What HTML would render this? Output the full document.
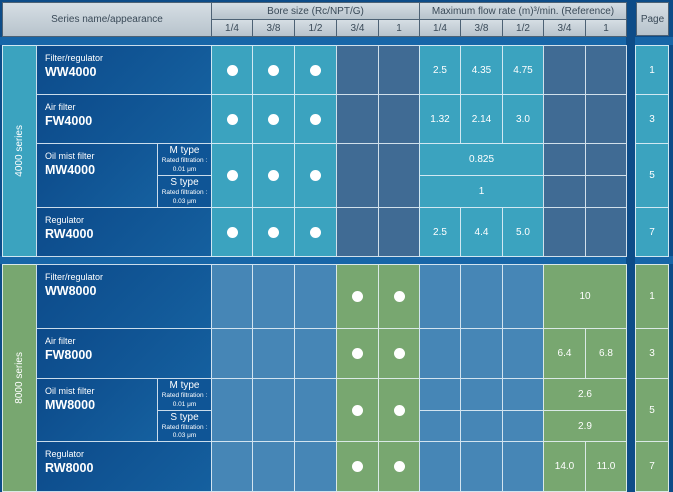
<!DOCTYPE html>
<html><head><meta charset="utf-8"><style>
*{margin:0;padding:0;box-sizing:border-box}
body{width:673px;height:492px;overflow:hidden;background:#0d4c88;font-family:"Liberation Sans",sans-serif;position:relative}
.c{position:absolute;border:1px solid rgba(235,245,250,.85);display:flex;align-items:center;justify-content:center;color:#fff;font-size:10px}
.h{background:linear-gradient(#d6dee4,#b7c3cc);color:#3a4a58;border-color:#4d6275;font-size:10px}
.cy{background:#3ba3bf}.sl{background:#406b94}.bl{background:#4686b6}.gr{background:#78a770}
.nm{background:linear-gradient(135deg,#0c4a8a,#15609f);align-items:flex-start;justify-content:flex-start;flex-direction:column;padding:7px 0 0 8px}
.nm small{font-size:9px}.nm b{font-size:12.5px;font-weight:bold;margin-top:2px}
.tp{background:#0f5596;flex-direction:column;line-height:1}
.tp span{font-size:10px}.tp i{font-style:normal;font-size:6.5px;margin-top:2px}
.d{width:11px;height:11px;border-radius:50%;background:#fff}
.v{writing-mode:vertical-rl;transform:rotate(180deg);font-size:10px}
</style></head><body>
<div style="position:absolute;left:0;top:37px;width:673px;height:8px;background:#1766a8"></div>
<div style="position:absolute;left:0;top:256px;width:673px;height:8px;background:#1766a8"></div>
<div style="position:absolute;left:626px;top:0;width:9px;height:492px;background:#0d4c88"></div>
<!-- header -->
<div class="c h" style="left:2px;top:2px;width:210px;height:35px">Series name/appearance</div>
<div class="c h" style="left:211px;top:2px;width:209px;height:18px">Bore size (Rc/NPT/G)</div>
<div class="c h" style="left:419px;top:2px;width:208px;height:18px">Maximum flow rate (m)³/min. (Reference)</div>
<div class="c h" style="left:211px;top:19px;width:42px;height:18px">1/4</div>
<div class="c h" style="left:252px;top:19px;width:43px;height:18px">3/8</div>
<div class="c h" style="left:294px;top:19px;width:43px;height:18px">1/2</div>
<div class="c h" style="left:336px;top:19px;width:43px;height:18px">3/4</div>
<div class="c h" style="left:378px;top:19px;width:42px;height:18px">1</div>
<div class="c h" style="left:419px;top:19px;width:42px;height:18px">1/4</div>
<div class="c h" style="left:460px;top:19px;width:43px;height:18px">3/8</div>
<div class="c h" style="left:502px;top:19px;width:42px;height:18px">1/2</div>
<div class="c h" style="left:543px;top:19px;width:43px;height:18px">3/4</div>
<div class="c h" style="left:585px;top:19px;width:42px;height:18px">1</div>
<div class="c h" style="left:636px;top:2px;width:33px;height:34px">Page</div>

<!-- section 1 -->
<div class="c cy" style="left:2px;top:45px;width:35px;height:212px"><span class="v">4000 series</span></div>
<div class="c nm" style="left:36px;top:45px;width:176px;height:50px"><small>Filter/regulator</small><b>WW4000</b></div>
<div class="c nm" style="left:36px;top:94px;width:176px;height:50px"><small>Air filter</small><b>FW4000</b></div>
<div class="c nm" style="left:36px;top:143px;width:122px;height:65px"><small>Oil mist filter</small><b>MW4000</b></div>
<div class="c tp" style="left:157px;top:143px;width:55px;height:33px"><span>M type</span><i>Rated filtration :</i><i>0.01 μm</i></div>
<div class="c tp" style="left:157px;top:175px;width:55px;height:33px"><span>S type</span><i>Rated filtration :</i><i>0.03 μm</i></div>
<div class="c nm" style="left:36px;top:207px;width:176px;height:50px"><small>Regulator</small><b>RW4000</b></div>

<div class="c cy" style="left:211px;top:45px;width:42px;height:50px"><div class="d"></div></div>
<div class="c cy" style="left:252px;top:45px;width:43px;height:50px"><div class="d"></div></div>
<div class="c cy" style="left:294px;top:45px;width:43px;height:50px"><div class="d"></div></div>
<div class="c sl" style="left:336px;top:45px;width:43px;height:50px"></div>
<div class="c sl" style="left:378px;top:45px;width:42px;height:50px"></div>
<div class="c cy" style="left:419px;top:45px;width:42px;height:50px">2.5</div>
<div class="c cy" style="left:460px;top:45px;width:43px;height:50px">4.35</div>
<div class="c cy" style="left:502px;top:45px;width:42px;height:50px">4.75</div>
<div class="c sl" style="left:543px;top:45px;width:43px;height:50px"></div>
<div class="c sl" style="left:585px;top:45px;width:42px;height:50px"></div>
<div class="c cy" style="left:635px;top:45px;width:34px;height:50px">1</div>

<div class="c cy" style="left:211px;top:94px;width:42px;height:50px"><div class="d"></div></div>
<div class="c cy" style="left:252px;top:94px;width:43px;height:50px"><div class="d"></div></div>
<div class="c cy" style="left:294px;top:94px;width:43px;height:50px"><div class="d"></div></div>
<div class="c sl" style="left:336px;top:94px;width:43px;height:50px"></div>
<div class="c sl" style="left:378px;top:94px;width:42px;height:50px"></div>
<div class="c cy" style="left:419px;top:94px;width:42px;height:50px">1.32</div>
<div class="c cy" style="left:460px;top:94px;width:43px;height:50px">2.14</div>
<div class="c cy" style="left:502px;top:94px;width:42px;height:50px">3.0</div>
<div class="c sl" style="left:543px;top:94px;width:43px;height:50px"></div>
<div class="c sl" style="left:585px;top:94px;width:42px;height:50px"></div>
<div class="c cy" style="left:635px;top:94px;width:34px;height:50px">3</div>

<div class="c cy" style="left:211px;top:143px;width:42px;height:65px"><div class="d"></div></div>
<div class="c cy" style="left:252px;top:143px;width:43px;height:65px"><div class="d"></div></div>
<div class="c cy" style="left:294px;top:143px;width:43px;height:65px"><div class="d"></div></div>
<div class="c sl" style="left:336px;top:143px;width:43px;height:65px"></div>
<div class="c sl" style="left:378px;top:143px;width:42px;height:65px"></div>
<div class="c cy" style="left:419px;top:143px;width:125px;height:33px">0.825</div>
<div class="c cy" style="left:419px;top:175px;width:125px;height:33px">1</div>
<div class="c sl" style="left:543px;top:143px;width:43px;height:33px"></div>
<div class="c sl" style="left:585px;top:143px;width:42px;height:33px"></div>
<div class="c sl" style="left:543px;top:175px;width:43px;height:33px"></div>
<div class="c sl" style="left:585px;top:175px;width:42px;height:33px"></div>
<div class="c cy" style="left:635px;top:143px;width:34px;height:65px">5</div>

<div class="c cy" style="left:211px;top:207px;width:42px;height:50px"><div class="d"></div></div>
<div class="c cy" style="left:252px;top:207px;width:43px;height:50px"><div class="d"></div></div>
<div class="c cy" style="left:294px;top:207px;width:43px;height:50px"><div class="d"></div></div>
<div class="c sl" style="left:336px;top:207px;width:43px;height:50px"></div>
<div class="c sl" style="left:378px;top:207px;width:42px;height:50px"></div>
<div class="c cy" style="left:419px;top:207px;width:42px;height:50px">2.5</div>
<div class="c cy" style="left:460px;top:207px;width:43px;height:50px">4.4</div>
<div class="c cy" style="left:502px;top:207px;width:42px;height:50px">5.0</div>
<div class="c sl" style="left:543px;top:207px;width:43px;height:50px"></div>
<div class="c sl" style="left:585px;top:207px;width:42px;height:50px"></div>
<div class="c cy" style="left:635px;top:207px;width:34px;height:50px">7</div>

<!-- section 2 -->
<div class="c gr" style="left:2px;top:264px;width:35px;height:228px"><span class="v">8000 series</span></div>
<div class="c nm" style="left:36px;top:264px;width:176px;height:65px"><small>Filter/regulator</small><b>WW8000</b></div>
<div class="c nm" style="left:36px;top:328px;width:176px;height:51px"><small>Air filter</small><b>FW8000</b></div>
<div class="c nm" style="left:36px;top:378px;width:122px;height:64px"><small>Oil mist filter</small><b>MW8000</b></div>
<div class="c tp" style="left:157px;top:378px;width:55px;height:33px"><span>M type</span><i>Rated filtration :</i><i>0.01 μm</i></div>
<div class="c tp" style="left:157px;top:410px;width:55px;height:32px"><span>S type</span><i>Rated filtration :</i><i>0.03 μm</i></div>
<div class="c nm" style="left:36px;top:441px;width:176px;height:51px"><small>Regulator</small><b>RW8000</b></div>

<div class="c bl" style="left:211px;top:264px;width:42px;height:65px"></div>
<div class="c bl" style="left:252px;top:264px;width:43px;height:65px"></div>
<div class="c bl" style="left:294px;top:264px;width:43px;height:65px"></div>
<div class="c gr" style="left:336px;top:264px;width:43px;height:65px"><div class="d"></div></div>
<div class="c gr" style="left:378px;top:264px;width:42px;height:65px"><div class="d"></div></div>
<div class="c bl" style="left:419px;top:264px;width:42px;height:65px"></div>
<div class="c bl" style="left:460px;top:264px;width:43px;height:65px"></div>
<div class="c bl" style="left:502px;top:264px;width:42px;height:65px"></div>
<div class="c gr" style="left:543px;top:264px;width:84px;height:65px">10</div>
<div class="c gr" style="left:635px;top:264px;width:34px;height:65px">1</div>

<div class="c bl" style="left:211px;top:328px;width:42px;height:51px"></div>
<div class="c bl" style="left:252px;top:328px;width:43px;height:51px"></div>
<div class="c bl" style="left:294px;top:328px;width:43px;height:51px"></div>
<div class="c gr" style="left:336px;top:328px;width:43px;height:51px"><div class="d"></div></div>
<div class="c gr" style="left:378px;top:328px;width:42px;height:51px"><div class="d"></div></div>
<div class="c bl" style="left:419px;top:328px;width:42px;height:51px"></div>
<div class="c bl" style="left:460px;top:328px;width:43px;height:51px"></div>
<div class="c bl" style="left:502px;top:328px;width:42px;height:51px"></div>
<div class="c gr" style="left:543px;top:328px;width:43px;height:51px">6.4</div>
<div class="c gr" style="left:585px;top:328px;width:42px;height:51px">6.8</div>
<div class="c gr" style="left:635px;top:328px;width:34px;height:51px">3</div>

<div class="c bl" style="left:211px;top:378px;width:42px;height:64px"></div>
<div class="c bl" style="left:252px;top:378px;width:43px;height:64px"></div>
<div class="c bl" style="left:294px;top:378px;width:43px;height:64px"></div>
<div class="c gr" style="left:336px;top:378px;width:43px;height:64px"><div class="d"></div></div>
<div class="c gr" style="left:378px;top:378px;width:42px;height:64px"><div class="d"></div></div>
<div class="c bl" style="left:419px;top:378px;width:42px;height:33px"></div>
<div class="c bl" style="left:460px;top:378px;width:43px;height:33px"></div>
<div class="c bl" style="left:502px;top:378px;width:42px;height:33px"></div>
<div class="c bl" style="left:419px;top:410px;width:42px;height:32px"></div>
<div class="c bl" style="left:460px;top:410px;width:43px;height:32px"></div>
<div class="c bl" style="left:502px;top:410px;width:42px;height:32px"></div>
<div class="c gr" style="left:543px;top:378px;width:84px;height:33px">2.6</div>
<div class="c gr" style="left:543px;top:410px;width:84px;height:32px">2.9</div>
<div class="c gr" style="left:635px;top:378px;width:34px;height:64px">5</div>

<div class="c bl" style="left:211px;top:441px;width:42px;height:51px"></div>
<div class="c bl" style="left:252px;top:441px;width:43px;height:51px"></div>
<div class="c bl" style="left:294px;top:441px;width:43px;height:51px"></div>
<div class="c gr" style="left:336px;top:441px;width:43px;height:51px"><div class="d"></div></div>
<div class="c gr" style="left:378px;top:441px;width:42px;height:51px"><div class="d"></div></div>
<div class="c bl" style="left:419px;top:441px;width:42px;height:51px"></div>
<div class="c bl" style="left:460px;top:441px;width:43px;height:51px"></div>
<div class="c bl" style="left:502px;top:441px;width:42px;height:51px"></div>
<div class="c gr" style="left:543px;top:441px;width:43px;height:51px">14.0</div>
<div class="c gr" style="left:585px;top:441px;width:42px;height:51px">11.0</div>
<div class="c gr" style="left:635px;top:441px;width:34px;height:51px">7</div>
</body></html>
